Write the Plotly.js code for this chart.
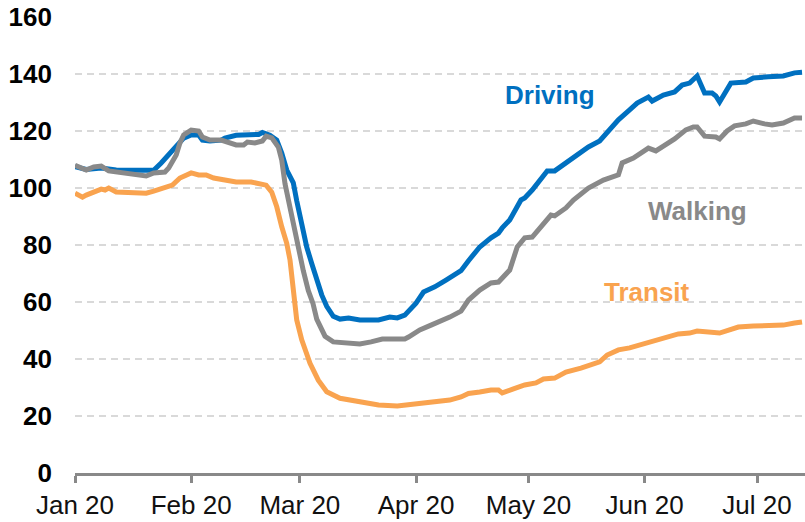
<!DOCTYPE html>
<html>
<head>
<meta charset="utf-8">
<script src="https://cdn.plot.ly/plotly-3.0.1.min.js"></script>
<style>
  html, body { margin: 0; padding: 0; background: #ffffff; }
  #chart { width: 805px; height: 522px; }
</style>
</head>
<body>
<div id="chart"></div>
<script>
// ---- Data (index, Jan 13 2020 = baseline) ----
const drivingDates = ['2020-01-13','2020-01-16','2020-01-20','2020-01-24','2020-01-28','2020-02-01','2020-02-03','2020-02-05','2020-02-07','2020-02-09','2020-02-11','2020-02-13','2020-02-15','2020-02-16','2020-02-18','2020-02-21','2020-02-22','2020-02-25','2020-02-29','2020-03-02','2020-03-03','2020-03-05','2020-03-06 20:00','2020-03-08 04:00','2020-03-09 12:00','2020-03-11 06:00','2020-03-12 04:00','2020-03-13 00:00','2020-03-13 22:00','2020-03-14 20:00','2020-03-16 04:00','2020-03-17 12:00','2020-03-18 20:00','2020-03-20 04:00','2020-03-21 22:00','2020-03-23 17:00','2020-03-26','2020-03-29','2020-04-03','2020-04-06','2020-04-08','2020-04-10','2020-04-13','2020-04-15','2020-04-18','2020-04-21','2020-04-23','2020-04-25','2020-04-27','2020-04-30','2020-05-03','2020-05-05','2020-05-06','2020-05-08','2020-05-11','2020-05-12','2020-05-14','2020-05-16','2020-05-18','2020-05-20','2020-05-23','2020-05-25','2020-05-27','2020-05-29','2020-06-01','2020-06-03','2020-06-06','2020-06-09','2020-06-11','2020-06-14','2020-06-15','2020-06-18','2020-06-21','2020-06-23','2020-06-25','2020-06-27','2020-06-28','2020-06-29','2020-07-01','2020-07-02','2020-07-03','2020-07-05','2020-07-06','2020-07-10','2020-07-12','2020-07-16','2020-07-20','2020-07-23','2020-07-25'];
const drivingValues = [107.5,106.5,107,106.3,106.2,106.2,106.2,108.8,111.6,115,117.5,118.6,118.6,116.8,116.5,116.8,117.5,118.5,118.6,118.8,119.5,118.5,116.8,112.3,106.3,101.8,95.5,90,84.5,79.3,73.5,68,62.5,58.5,55,54,54.4,53.7,53.7,54.7,54.4,55.4,59.6,63.5,65.3,67.7,69.5,71,74.5,79.3,82.5,84.2,86,88.8,95.8,96.5,99.3,102.8,106,106,108.8,110.2,112.3,114.4,116.5,119.6,123.9,127.4,129.8,131.9,130.5,132.6,133.7,136.1,136.8,139.3,136,133.3,133.3,132.3,130.2,135,136.8,137.2,138.6,139,139.3,140.4,140.6];

const walkingDates = ['2020-01-13','2020-01-16','2020-01-18','2020-01-20','2020-01-22','2020-01-26','2020-01-30','2020-02-01','2020-02-03','2020-02-06','2020-02-07','2020-02-09','2020-02-10','2020-02-11','2020-02-13','2020-02-15','2020-02-16','2020-02-18','2020-02-21','2020-02-23','2020-02-25','2020-02-27','2020-02-28','2020-03-01','2020-03-03','2020-03-04','2020-03-05 12:00','2020-03-07 06:00','2020-03-08 04:00','2020-03-09 01:00','2020-03-09 22:00','2020-03-10 20:00','2020-03-11 17:00','2020-03-12 14:00','2020-03-13 22:00','2020-03-15 06:00','2020-03-16 12:00','2020-03-17 12:00','2020-03-19 17:00','2020-03-21 22:00','2020-03-24','2020-03-25','2020-03-29','2020-04-01','2020-04-04','2020-04-07','2020-04-10','2020-04-11','2020-04-14','2020-04-17','2020-04-19','2020-04-22','2020-04-25','2020-04-27','2020-04-30','2020-05-03','2020-05-05','2020-05-06','2020-05-08','2020-05-10','2020-05-12','2020-05-14','2020-05-16','2020-05-19','2020-05-20','2020-05-23','2020-05-25','2020-05-28','2020-05-29','2020-06-02','2020-06-06','2020-06-07','2020-06-10','2020-06-14','2020-06-16','2020-06-18','2020-06-21','2020-06-24','2020-06-26','2020-06-27','2020-06-29','2020-07-02','2020-07-03','2020-07-05','2020-07-07','2020-07-10','2020-07-12','2020-07-15','2020-07-17','2020-07-20','2020-07-23','2020-07-25'];
const walkingValues = [108,106.3,107.4,107.7,106,105.3,104.9,104.2,105.3,105.6,107,111.6,115.8,118.6,120.3,120,117.9,116.8,116.8,116.1,115.1,115.1,116.1,115.8,116.5,118.2,117.6,114.4,109.8,101.5,96,89.5,84,78.5,71,64,59.5,54,48,46,45.8,46,45.3,46,47,47,47,47.7,50.2,51.9,53,54.7,56.8,60.7,64.2,66.7,67,68.4,71.2,79.3,82.5,82.8,86,90.5,90.2,93,95.8,99.3,100,102.8,104.6,108.8,110.5,114,113,114.7,117.2,120.4,121.4,121.4,118.2,117.9,117.2,120,121.8,122.5,123.5,122.5,122.1,122.8,124.6,124.6];

const transitDates = ['2020-01-13','2020-01-15','2020-01-16','2020-01-20','2020-01-21','2020-01-22','2020-01-24','2020-01-28','2020-02-01','2020-02-03','2020-02-06','2020-02-08','2020-02-10','2020-02-13','2020-02-15','2020-02-17','2020-02-19','2020-02-22','2020-02-25','2020-02-29','2020-03-02','2020-03-04','2020-03-05 12:00','2020-03-06 20:00','2020-03-08 04:00','2020-03-09 12:00','2020-03-10 09:00','2020-03-11 06:00','2020-03-12 04:00','2020-03-13 12:00','2020-03-15 17:00','2020-03-17 22:00','2020-03-20 04:00','2020-03-23 17:00','2020-03-25','2020-03-29','2020-04-03','2020-04-08','2020-04-11','2020-04-14','2020-04-18','2020-04-22','2020-04-25','2020-04-27','2020-04-30','2020-05-03','2020-05-05','2020-05-06','2020-05-09','2020-05-12','2020-05-15','2020-05-17','2020-05-20','2020-05-23','2020-05-27','2020-05-29','2020-06-01','2020-06-03','2020-06-06','2020-06-09','2020-06-11','2020-06-14','2020-06-17','2020-06-20','2020-06-22','2020-06-25','2020-06-27','2020-07-03','2020-07-06','2020-07-08','2020-07-12','2020-07-16','2020-07-20','2020-07-23','2020-07-25'];
const transitValues = [98.2,96.8,97.5,99.6,99.3,100,98.6,98.2,98.2,98.9,100,101,103.5,105.3,104.6,104.6,103.5,102.8,102.1,102.1,101.4,101,98.5,93.4,86.4,80.6,74.7,63.1,53.7,46.7,38.5,32.6,28.5,26.2,25.9,24.9,23.9,23.5,23.9,24.2,24.9,25.6,26.7,27.9,28.4,29.1,29.1,28.1,29.5,30.9,31.6,33,33.3,35.4,36.8,37.7,39,41.4,43.2,43.9,44.6,45.6,46.7,47.7,48.8,49.1,49.8,49.1,50.2,51.2,51.6,51.6,51.9,52.6,53];

const tickDates = ['2020-01-13','2020-02-13','2020-03-13','2020-04-13','2020-05-13','2020-06-13','2020-07-13'];
const tickLabels = ['Jan 20','Feb 20','Mar 20','Apr 20','May 20','Jun 20','Jul 20'];
const seriesNames = ['Driving','Walking','Transit'];
const seriesColors = ['#0070C0','#898989','#F9A34F'];

const FONT = '"Liberation Sans", Arial, sans-serif';

const traces = [
  {x: drivingDates, y: drivingValues},
  {x: walkingDates, y: walkingValues},
  {x: transitDates, y: transitValues}
].map((s, i) => ({
  type: 'scatter', mode: 'lines', name: seriesNames[i],
  x: s.x, y: s.y,
  line: {color: seriesColors[i], width: 5, shape: 'linear'},
  hoverinfo: 'skip'
}));

const labelPos = [
  {x: 0.651, y: 0.829},
  {x: 0.853, y: 0.575},
  {x: 0.784, y: 0.397}
];
const annotations = seriesNames.map((n, i) => ({
  xref: 'paper', yref: 'paper', x: labelPos[i].x, y: labelPos[i].y,
  xanchor: 'center', yanchor: 'middle', showarrow: false,
  text: n,
  font: {family: FONT, size: 26, color: seriesColors[i], weight: 'bold'}
}));

const layout = {
  width: 805, height: 522,
  margin: {l: 75, r: 0, t: 17, b: 49, pad: 0},
  paper_bgcolor: '#ffffff', plot_bgcolor: '#ffffff',
  showlegend: false,
  font: {family: FONT, size: 26, color: '#000000'},
  xaxis: {
    type: 'date',
    range: ['2020-01-13', '2020-07-25 19:00'],
    tickmode: 'array', tickvals: tickDates, ticktext: tickLabels,
    ticks: 'outside', ticklen: 7, tickwidth: 3, tickcolor: '#898989',
    showline: true, linecolor: '#898989', linewidth: 3,
    showgrid: false, zeroline: false,
    tickfont: {family: FONT, size: 26, color: '#111111'}
  },
  yaxis: {
    range: [0, 160], dtick: 20, tick0: 0,
    showgrid: true, gridcolor: '#D9D9D9', gridwidth: 2, griddash: '7px,5px',
    zeroline: false, showline: false, ticks: '',
    ticklabelstandoff: 22,
    tickfont: {family: FONT, size: 26, color: '#000000', weight: 'bold'}
  },
  annotations: annotations
};

Plotly.newPlot('chart', traces, layout, {staticPlot: true, displayModeBar: false});
</script>
</body>
</html>
